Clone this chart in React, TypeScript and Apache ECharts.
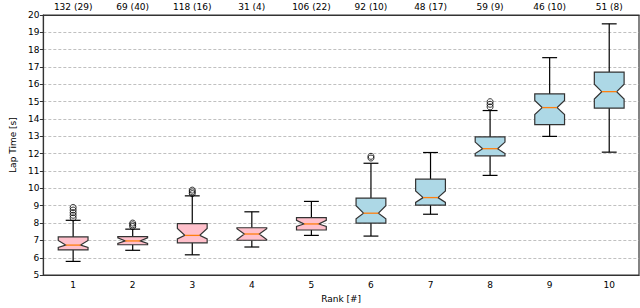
import React, { useEffect, useRef } from "react";
import * as echarts from "echarts";

const ranks = ["1", "2", "3", "4", "5", "6", "7", "8", "9", "10"];
const topLabels = ["132 (29)", "69 (40)", "118 (16)", "31 (4)", "106 (22)", "92 (10)", "48 (17)", "59 (9)", "46 (10)", "51 (8)"];
// whisker low, q1, notch low, median, notch high, q3, whisker high
const lowWhisker = [5.79, 6.43, 6.17, 6.62, 7.29, 7.25, 8.51, 10.75, 13.0, 12.09];
const q1 = [6.45, 6.75, 6.86, 7.01, 7.6, 8.0, 9.04, 11.88, 13.68, 14.63];
const notchLow = [6.6, 6.82, 7.09, 7.05, 7.8, 8.25, 9.19, 12.01, 14.26, 15.15];
const medians = [6.73, 6.97, 7.29, 7.37, 7.95, 8.57, 9.47, 12.29, 14.66, 15.58];
const notchHigh = [7.0, 7.15, 7.69, 7.68, 8.16, 9.0, 9.85, 12.67, 15.07, 16.01];
const q3 = [7.2, 7.22, 7.97, 7.73, 8.31, 9.44, 10.53, 12.97, 15.45, 16.71];
const highWhisker = [8.16, 7.65, 9.57, 8.65, 9.25, 11.45, 12.07, 14.49, 17.54, 19.49];
const boxColors = ["#ffc0cb", "#ffc0cb", "#ffc0cb", "#ffc0cb", "#ffc0cb", "#add8e6", "#add8e6", "#add8e6", "#add8e6", "#add8e6"];
const outliers: [number, number][] = [
  [0, 8.3], [0, 8.45], [0, 8.6], [0, 8.75], [0, 8.9],
  [1, 7.8], [1, 7.9], [1, 8.0],
  [2, 9.7], [2, 9.8], [2, 9.9],
  [5, 11.75], [5, 11.85],
  [7, 14.7], [7, 14.85], [7, 15.0],
];

export default function App() {
  const ref = useRef<HTMLDivElement>(null);
  useEffect(() => {
    if (!ref.current) return;
    const chart = echarts.init(ref.current, undefined, { renderer: "svg" });
    const boxData = ranks.map((_, i) => [i, lowWhisker[i], q1[i], notchLow[i], medians[i], notchHigh[i], q3[i], highWhisker[i]]);
    const font = "DejaVu Sans";
    const edge = "#333333";
    chart.setOption({
      animation: false,
      textStyle: { fontFamily: font },
      grid: { left: 31, right: 1, top: 15, bottom: 27, show: true, borderColor: edge, borderWidth: 1.2, backgroundColor: "transparent" },
      xAxis: [
        {
          type: "category",
          data: ranks,
          position: "bottom",
          name: "Rank [#]",
          nameLocation: "middle",
          nameGap: 17,
          nameTextStyle: { fontSize: 9, color: "#000", fontFamily: font },
          axisLine: { lineStyle: { color: edge, width: 1.2 } },
          axisTick: { alignWithLabel: true, length: 3.5, lineStyle: { color: edge } },
          axisLabel: { fontSize: 9, color: "#000", margin: 5, fontFamily: font },
          splitLine: { show: false },
        },
        {
          type: "category",
          data: topLabels,
          position: "top",
          axisLine: { lineStyle: { color: edge, width: 1.2 } },
          axisTick: { alignWithLabel: true, length: 3.5, lineStyle: { color: edge } },
          axisLabel: { fontSize: 9, color: "#000", margin: 4, fontFamily: font },
          splitLine: { show: false },
        },
      ],
      yAxis: {
        type: "value",
        min: 5,
        max: 20,
        interval: 1,
        name: "Lap Time [s]",
        nameLocation: "middle",
        nameGap: 21,
        nameTextStyle: { fontSize: 9, color: "#000", fontFamily: font },
        axisLine: { show: true, lineStyle: { color: edge, width: 1.2 } },
        axisTick: { show: true, length: 3.5, lineStyle: { color: edge } },
        axisLabel: { fontSize: 9, color: "#000", margin: 4, fontFamily: font },
        splitLine: { show: true, lineStyle: { color: "#b0b0b0", type: [3, 2], width: 0.8 } },
      },
      series: [
        {
          type: "custom",
          xAxisIndex: 0,
          yAxisIndex: 0,
          data: boxData,
          encode: { x: 0, y: [1, 2, 3, 4, 5, 6, 7] },
          z: 3,
          renderItem: (params: any, api: any) => {
            const idx = api.value(0);
            const band = api.size([1, 0])[0];
            const half = band * 0.25;
            const inset = half * 0.5;
            const capHalf = half * 0.5;
            const c = api.coord([idx, api.value(4)]);
            const cx = c[0];
            const y = (k: number) => api.coord([idx, api.value(k)])[1];
            const yLow = y(1), yQ1 = y(2), yNL = y(3), yMed = y(4), yNH = y(5), yQ3 = y(6), yHigh = y(7);
            const L = cx - half, R = cx + half;
            const ls = { stroke: "#000", lineWidth: 1.2 };
            return {
              type: "group",
              children: [
                { type: "line", shape: { x1: cx, y1: yQ1, x2: cx, y2: yLow }, style: ls },
                { type: "line", shape: { x1: cx, y1: yQ3, x2: cx, y2: yHigh }, style: ls },
                { type: "line", shape: { x1: cx - capHalf, y1: yLow, x2: cx + capHalf, y2: yLow }, style: ls },
                { type: "line", shape: { x1: cx - capHalf, y1: yHigh, x2: cx + capHalf, y2: yHigh }, style: ls },
                {
                  type: "polygon",
                  shape: {
                    points: [
                      [L, yQ3], [R, yQ3], [R, yNH], [R - inset, yMed], [R, yNL], [R, yQ1],
                      [L, yQ1], [L, yNL], [L + inset, yMed], [L, yNH],
                    ],
                  },
                  style: { fill: boxColors[idx], stroke: edge, lineWidth: 1.2 },
                },
                { type: "line", shape: { x1: L + inset, y1: yMed, x2: R - inset, y2: yMed }, style: { stroke: "#ff7f0e", lineWidth: 1.3 } },
              ],
            };
          },
        },
        {
          type: "scatter",
          xAxisIndex: 0,
          data: outliers,
          symbol: "circle",
          symbolSize: 6,
          itemStyle: { color: "transparent", borderColor: "#000", borderWidth: 1 },
          z: 4,
        },
      ],
    });
    return () => chart.dispose();
  }, []);
  return <div ref={ref} style={{ width: 640, height: 308, position: "absolute", left: 0, top: 0 }} />;
}
